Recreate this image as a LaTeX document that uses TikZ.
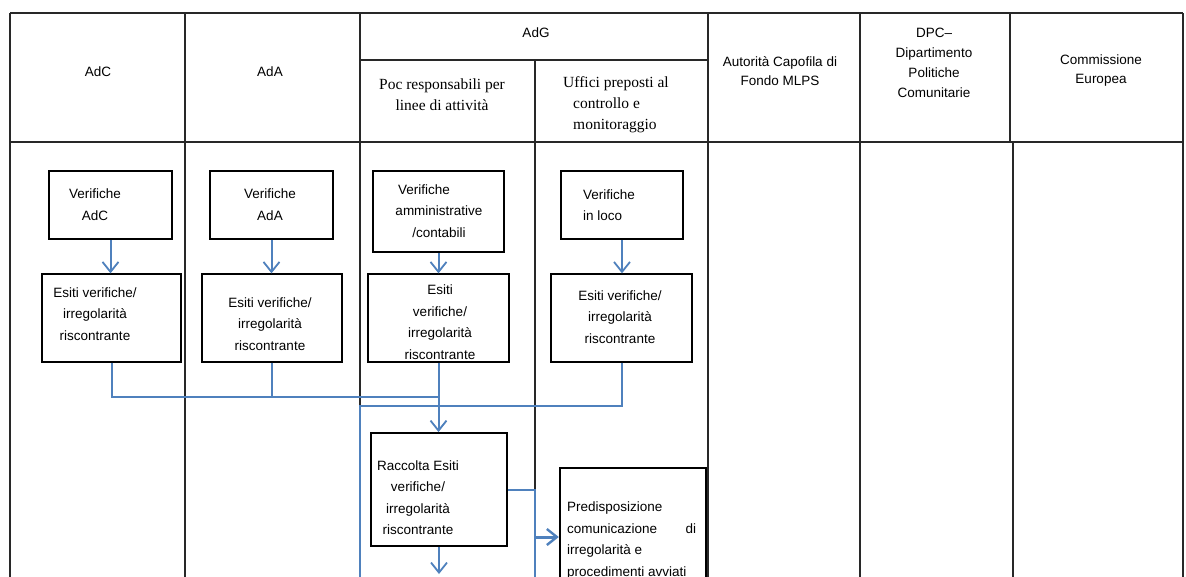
\documentclass[tikz,border=0pt]{standalone}
\usepackage{fontspec}
\setmainfont{Liberation Serif}
\newfontfamily\arialf{Liberation Sans}
\usetikzlibrary{arrows.meta,fit}
\definecolor{flowblue}{RGB}{79,129,189}
\definecolor{gridgray}{RGB}{40,40,40}
\tikzset{
  gridline/.style={draw=gridgray, line width=1.4pt},
  thickbox/.style={draw, line width=2.4pt, inner sep=0pt},
  thinbox/.style={draw, line width=1.3pt, inner sep=0pt},
  midbox/.style={draw, line width=1.9pt, inner sep=0pt},
  txt/.style={font=\arialf\fontsize{13.5}{21.5}\selectfont, align=center, inner sep=0pt},
  htxt/.style={font=\arialf\fontsize{13.5}{19}\selectfont, align=center, inner sep=0pt},
  stxt/.style={font=\fontsize{15.5}{21}\selectfont, inner sep=0pt},
  flow/.style={draw=flowblue, line width=2pt},
  flowarr/.style={flow, -{Straight Barb[length=10pt,width=16pt,line width=1.8pt]}},
  flowbold/.style={draw=flowblue, line width=3pt, -{Straight Barb[length=10pt,width=16pt,line width=2.4pt]}},
}
\begin{document}
\begin{tikzpicture}[x=1pt,y=-1pt]
\useasboundingbox (0,0) rectangle (1186,576);
\fill[white] (0,0) rectangle (1186,576);
\begin{scope}
\clip (0,0) rectangle (1186,576);

% swimlane grid
\draw[gridline] (10,13) -- (1183,13);
\draw[gridline] (10,142) -- (1183,142);
\draw[gridline] (360,60) -- (708,60);
\draw[gridline] (10,13) -- (10,580);
\draw[gridline] (185,13) -- (185,580);
\draw[gridline] (360,13) -- (360,580);
\draw[gridline] (535,60) -- (535,580);
\draw[gridline] (708,13) -- (708,580);
\draw[gridline] (860,13) -- (860,580);
\draw[gridline] (1010,13) -- (1010,142);
\draw[gridline] (1013,142) -- (1013,580);
\draw[gridline] (1183,13) -- (1183,580);

% lane headings
\node[htxt] (hAdC) at (98,72) {AdC};
\node[htxt] (hAdA) at (270,72) {AdA};
\node[htxt] (hAdG) at (536,33) {AdG};
\node[stxt, align=center] (hPoc) at (442,94.5) {Poc responsabili per\\linee di attività};
\node[stxt, align=left, anchor=west] (hUff) at (563,105) {Uffici preposti al\\\hspace*{10pt}controllo e\\\hspace*{10pt}monitoraggio};
\node[htxt] (hAut) at (780,71) {Autorità Capofila di\\Fondo MLPS};
\node[htxt, font=\arialf\fontsize{13.5}{20}\selectfont] (hDPC) at (934,63) {DPC–\\Dipartimento\\Politiche\\Comunitarie};
\node[htxt] (hCE) at (1101,71) {Commissione\\Europea};

% process boxes
\node[thickbox, fit={(49,171) (172,239)}] (vAdC) {};
\node[thinbox,  fit={(42,274) (181,362)}] (eAdC) {};
\node[thickbox, fit={(210,171) (333,239)}] (vAdA) {};
\node[thinbox,  fit={(202,274) (342,362)}] (eAdA) {};
\node[thickbox, fit={(373,171) (504,252)}] (vAmm) {};
\node[thinbox,  fit={(368,274) (509,362)}] (eAmm) {};
\node[thickbox, fit={(561,171) (683,239)}] (vLoco) {};
\node[thinbox,  fit={(551,274) (692,362)}] (eLoco) {};
\node[midbox,   fit={(371,433) (507,546)}] (racc) {};
\node[thickbox, fit={(560,468) (706,640)}] (pred) {};

% box texts
\node[txt] (tvAdC) at (95,204.5) {Verifiche\\AdC};
\node[txt] (teAdC) at (95,314) {Esiti verifiche/\\irregolarità\\riscontrante};
\node[txt] (tvAdA) at (270,204.5) {Verifiche\\AdA};
\node[txt] (teAdA) at (270,324) {Esiti verifiche/\\irregolarità\\riscontrante};
\node[txt] (tvAmm) at (439,211) {\hspace*{-30pt}Verifiche\\amministrative\\/contabili};
\node[txt] (teAmm) at (440,322) {Esiti\\verifiche/\\irregolarità\\riscontrante};
\node[txt, align=left, anchor=west] (tvLoco) at (583,205) {Verifiche\\in loco};
\node[txt] (teLoco) at (620,317) {Esiti verifiche/\\irregolarità\\riscontrante};
\node[txt] (tracc) at (418,497.5) {Raccolta Esiti\\verifiche/\\irregolarità\\riscontrante};
\node[txt, align=left, anchor=west] (tpred) at (567,540.5)
  {Predisposizione\\\makebox[129pt][l]{comunicazione\hfill di}\\irregolarità e\\procedimenti avviati};

% flow connectors
\coordinate (jA) at (439,397);
\coordinate (jB) at (360,406);
\coordinate (jBend) at (360,580);
\coordinate (jC) at (535,580);
\coordinate (jD) at (535,537);
\coordinate (rEnd) at (439,574);

\draw[flowarr] (vAdC.south) -- (vAdC.south |- eAdC.north);
\draw[flowarr] (vAdA.south) -- (vAdA.south |- eAdA.north);
\draw[flowarr] (vAmm.south) -- (vAmm.south |- eAmm.north);
\draw[flowarr] (vLoco.south) -- (vLoco.south |- eLoco.north);

\draw[flow] (eAdC.south) |- (jA);
\draw[flow] (eAdA.south) -- (eAdA.south |- jA);
\draw[flowarr] (eAmm.south) -- (eAmm.south |- racc.north);
\draw[flow] (eLoco.south) |- (jB) -- (jBend);
\draw[flow] (racc.east) -| (jC);
\draw[flowbold] (jD) -- (jD -| pred.west);
\draw[flowarr] (racc.south) -- (rEnd);
\end{scope}
\end{tikzpicture}
\end{document}
